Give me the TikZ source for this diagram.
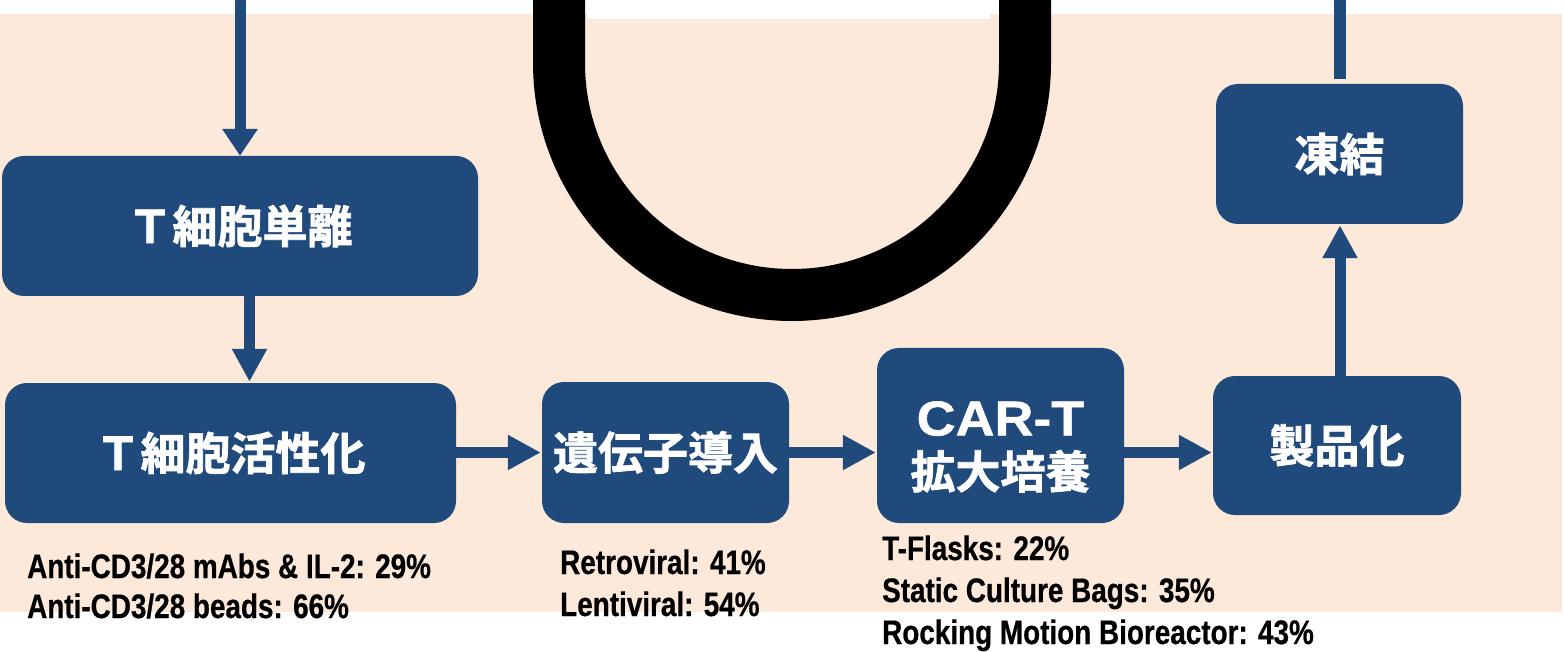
\documentclass[tikz,border=0pt]{standalone}
\usepackage{fontspec}
\usetikzlibrary{arrows.meta}
\newfontfamily\cjk{Noto Sans CJK JP Bold}[FakeBold=1.6]
\newfontfamily\latb{Liberation Sans}[FakeStretch=1.1,FakeBold=1]
\newfontfamily\cond{Liberation Sans}[FakeStretch=0.82,FakeBold=0.6]
\definecolor{boxblue}{RGB}{33,74,124}
\definecolor{peach}{RGB}{252,233,218}
\tikzset{
  stepbox/.style={rectangle, rounded corners=22pt, fill=boxblue, inner sep=0pt, text=white,
    font=\cjk\fontsize{45}{53}\selectfont, align=center},
  arr/.style={draw=boxblue, line width=11pt, -{Triangle[length=33pt,width=33pt]}, shorten >=1pt},
  lbl/.style={anchor=base west, inner sep=0pt, font=\cond\bfseries\fontsize{34}{40}\selectfont}
}
\begin{document}
\begin{tikzpicture}[x=1pt,y=-1pt]
\useasboundingbox (0,0) rectangle (1564,652);
\clip (0,0) rectangle (1564,652);
\fill[white] (0,0) rectangle (1564,652);
\fill[peach] (0,14) rectangle (1562,612);
\fill[white] (588,14) rectangle (990,19);
% U shape
\draw[line width=52pt, black] (559,-10) -- (559,63) arc[start angle=180, end angle=0, x radius=233, y radius=232] -- (1025,-10);
% boxes
\node[stepbox, minimum width=476pt, minimum height=140pt] (b1) at (240,226) {Ｔ細胞単離};
\node[stepbox, minimum width=451pt, minimum height=140pt] (b2) at (230.5,453) {Ｔ細胞活性化};
\node[stepbox, minimum width=247pt, minimum height=141pt] (b3) at (665.5,452.5) {遺伝子導入};
\node[stepbox, minimum width=247pt, minimum height=175pt] (b4) at (1000.5,435.5) {\rule{0pt}{57pt}{\latb\bfseries\fontsize{49}{53}\selectfont CAR-T}\\拡大培養};
\node[stepbox, minimum width=248pt, minimum height=139pt] (b5) at (1337,445.5) {製品化};
\node[stepbox, minimum width=247pt, minimum height=140pt] (b6) at (1339.5,154) {凍結};
% helper coordinates
\coordinate (top1) at (240,-5);
\coordinate (cx1) at (249.5,0);
\coordinate (cy) at (0,452.5);
\coordinate (cx2) at (1340,0);
\coordinate (top2) at (1340,-5);
% connectors
\draw[draw=boxblue, line width=11pt, -{Triangle[length=27pt,width=34pt]}] (top1) -- (b1.north);
\draw[arr] (cx1 |- b1.south) -- (cx1 |- b2.north);
\draw[arr] (b2.east |- cy) -- (b3.west |- cy);
\draw[arr] (b3.east |- cy) -- (b4.west |- cy);
\draw[arr] (b4.east |- cy) -- (b5.west |- cy);
\draw[arr] (cx2 |- b5.north) -- (cx2 |- b6.south);
\draw[draw=boxblue, line width=12pt, shorten <=5pt] (cx2 |- b6.north) -- (top2);
% labels
\node[lbl] (t1) at (27,578) {Anti-CD3/28 mAbs \& IL-2: 29\%};
\node[lbl] (t2) at (27,618) {Anti-CD3/28 beads: 66\%};
\node[lbl] (t3) at (560,574) {Retroviral: 41\%};
\node[lbl] (t4) at (560,616) {Lentiviral: 54\%};
\node[lbl] (t5) at (882,560) {T-Flasks: 22\%};
\node[lbl] (t6) at (882,602) {Static Culture Bags: 35\%};
\node[lbl] (t7) at (882,644) {Rocking Motion Bioreactor: 43\%};
\end{tikzpicture}
\end{document}
